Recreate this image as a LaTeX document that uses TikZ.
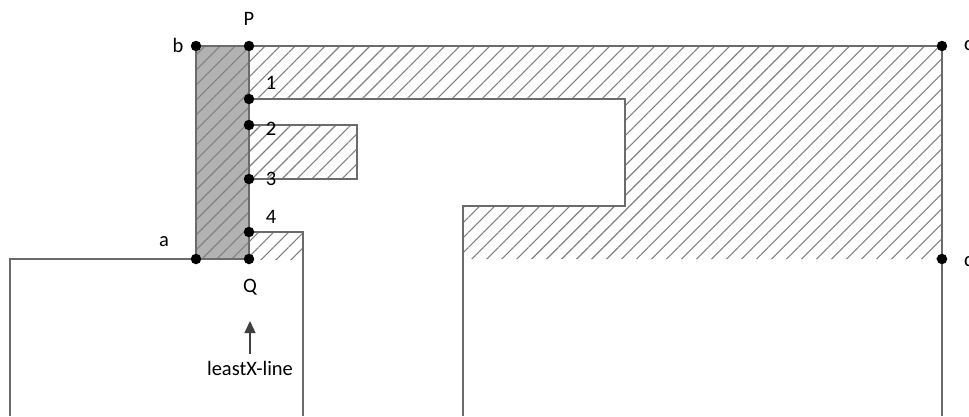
\documentclass[tikz,border=0pt]{standalone}
\usepackage{fontspec}
\setmainfont{Carlito}
\usetikzlibrary{patterns.meta,arrows.meta}
\begin{document}
\begin{tikzpicture}[x=1pt,y=-1pt,
  outline/.style={draw=black!58,line width=1.1pt},
  hatchfill/.style={pattern={Lines[angle=45,distance=10.6pt,line width=1.1pt]},pattern color=black!50},
  dot/.style={circle,fill=black,inner sep=0pt,minimum size=10.5pt},
  lbl/.style={font=\fontsize{20.5}{22}\selectfont,inner sep=0pt}]
\useasboundingbox (0,0) rectangle (969,416);
% hatched regions
\fill[hatchfill] (249,46) -- (942,46) -- (942,259) -- (463,259) -- (463,206) -- (625,206) -- (625,99) -- (249,99) -- cycle;
\fill[hatchfill] (249,125) rectangle (357,179);
\fill[hatchfill] (249,232) rectangle (303,259);
% grey strip
\fill[black!30] (196,46) rectangle (249,259);
\fill[hatchfill] (196,46) rectangle (249,259);
\draw[outline] (196,46) rectangle (249,259);
% outlines
\draw[outline] (249,46) -- (942,46) -- (942,416);
\draw[outline] (249,99) -- (625,99) -- (625,206) -- (463,206) -- (463,416);
\draw[outline] (249,125) -- (357,125) -- (357,179) -- (249,179);
\draw[outline] (249,232) -- (303,232) -- (303,416);
\draw[outline] (10,416) -- (10,259) -- (196,259);
% points
\node[dot] (b) at (196,46) {};
\node[dot] (P) at (249,46) {};
\node[dot] (c) at (942,46) {};
\node[dot] (a) at (196,259) {};
\node[dot] (Q) at (249,259) {};
\node[dot] (d) at (942,259) {};
\node[dot] (p1) at (249,99) {};
\node[dot] (p2) at (249,125) {};
\node[dot] (p3) at (249,179) {};
\node[dot] (p4) at (249,232) {};
% labels
\node[lbl] (lP) at (249,19) {P};
\node[lbl] (lb) at (178,45) {b};
\node[lbl,anchor=west] (lc) at (964,46) {c};
\node[lbl,anchor=west] (ld) at (964,259) {d};
\node[lbl] (la) at (164,242) {a};
\node[lbl] (lQ) at (250,287) {Q};
\node[lbl] (l1) at (271,83) {1};
\node[lbl] (l2) at (271,129) {2};
\node[lbl] (l3) at (271,179) {3};
\node[lbl] (l4) at (271,217) {4};
\node[lbl] (lx) at (250,368) {leastX-line};
\coordinate (arrtip) at (250,321);
\draw[black!75,line width=1.3pt,-{Triangle[length=12pt,width=11pt]}] (250,354) -- (arrtip);
\end{tikzpicture}
\end{document}
